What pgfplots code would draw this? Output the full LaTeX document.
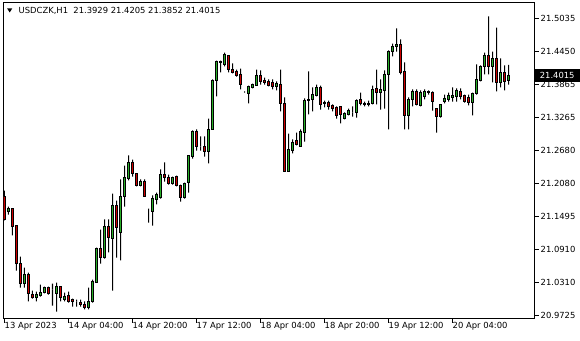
\documentclass[border=0pt]{standalone}
\usepackage{pgfplots}
\pgfplotsset{compat=1.18}
\usepackage{pgfplotstable}
\usepackage{fontspec}
\setmainfont{DejaVu Sans}
\definecolor{bull}{RGB}{40,175,40}
\definecolor{bear}{RGB}{205,0,0}
\newcommand{\mtfont}{\fontsize{8.4}{10}\selectfont}

\pgfplotstableread{
i o h l c
0 21.1853 21.1960 21.1424 21.1442
1 21.1585 21.1674 21.1531 21.1638
2 21.1638 21.1638 21.1156 21.1316
3 21.1334 21.1334 21.0530 21.0655
4 21.0655 21.0780 21.0226 21.0297
5 21.0297 21.0583 21.0226 21.0458
6 21.0458 21.0494 20.9976 21.0119
7 21.0101 21.0172 21.0029 21.0047
8 21.0047 21.0154 20.9976 21.0101
9 21.0083 21.0279 21.0065 21.0136
10 21.0136 21.0244 21.0119 21.0226
11 21.0226 21.0244 21.0101 21.0119
12 21.0190 21.0297 20.9904 21.0190
13 21.0119 21.0315 20.9797 21.0244
14 21.0244 21.0244 20.9976 21.0047
15 21.0011 21.0136 20.9976 21.0065
16 21.0083 21.0154 20.9958 20.9976
17 21.0011 21.0029 20.9886 20.9976
18 20.9976 21.0011 20.9886 20.9976
19 20.9958 21.0011 20.9886 20.9922
20 20.9922 20.9976 20.9833 20.9868
21 20.9868 21.0226 20.9833 20.9976
22 20.9976 21.0369 20.9958 21.0333
23 21.0315 21.0941 21.0315 21.0923
24 21.0923 21.1263 21.0655 21.0762
25 21.0762 21.1442 21.0744 21.1316
26 21.1316 21.1442 21.0852 21.1120
27 21.1102 21.1906 21.0172 21.1692
28 21.1692 21.1781 21.0762 21.1299
29 21.1209 21.2157 21.0709 21.1853
30 21.1853 21.2407 21.1674 21.2193
31 21.2175 21.2586 21.2139 21.2461
32 21.2461 21.2514 21.2210 21.2264
33 21.2264 21.2264 21.2032 21.2050
34 21.2050 21.2157 21.2032 21.2121
35 21.2121 21.2157 21.1853 21.1853
36 21.1638 21.1638 21.1388 21.1638
37 21.1585 21.1871 21.1334 21.1817
38 21.1799 21.1924 21.1710 21.1889
39 21.1835 21.2336 21.1817 21.2246
40 21.2246 21.2461 21.2121 21.2193
41 21.2193 21.2246 21.2067 21.2085
42 21.2085 21.2210 21.2067 21.2193
43 21.2210 21.2228 21.2032 21.2050
44 21.2050 21.2067 21.1763 21.1835
45 21.1835 21.2103 21.1817 21.2085
46 21.2103 21.2586 21.1924 21.2586
47 21.2568 21.3033 21.2532 21.3015
48 21.3015 21.3051 21.2675 21.2747
49 21.2747 21.2926 21.2675 21.2747
50 21.2747 21.2926 21.2568 21.2657
51 21.2657 21.3247 21.2443 21.3051
52 21.3051 21.3945 21.3051 21.3927
53 21.3927 21.4284 21.3641 21.4267
54 21.4249 21.4284 21.4070 21.4267
55 21.4213 21.4427 21.4177 21.4392
56 21.4374 21.4374 21.4070 21.4123
57 21.4123 21.4231 21.4052 21.4070
58 21.4088 21.4123 21.3998 21.4016
59 21.4034 21.4141 21.3766 21.3855
60 21.3730 21.3730 21.3712 21.3730
61 21.3694 21.3837 21.3516 21.3820
62 21.3802 21.3873 21.3784 21.3855
63 21.3837 21.4123 21.3837 21.4016
64 21.4016 21.4106 21.3855 21.3909
65 21.3927 21.3980 21.3855 21.3891
66 21.3909 21.3945 21.3820 21.3837
67 21.3891 21.3945 21.3766 21.3820
68 21.3820 21.3909 21.3748 21.3873
69 21.3855 21.4123 21.3373 21.3516
70 21.3516 21.3623 21.2300 21.2300
71 21.2300 21.2979 21.2300 21.2693
72 21.2675 21.2872 21.2622 21.2818
73 21.2854 21.2997 21.2765 21.2783
74 21.2747 21.3051 21.2747 21.3015
75 21.2997 21.3605 21.2836 21.3569
76 21.3569 21.4088 21.3319 21.3587
77 21.3587 21.3802 21.3373 21.3676
78 21.3659 21.3855 21.3641 21.3802
79 21.3802 21.3837 21.3408 21.3498
80 21.3533 21.3569 21.3444 21.3516
81 21.3533 21.3569 21.3408 21.3462
82 21.3480 21.3498 21.3373 21.3426
83 21.3444 21.3462 21.3247 21.3301
84 21.3462 21.3462 21.3158 21.3319
85 21.3247 21.3355 21.3230 21.3337
86 21.3319 21.3426 21.3301 21.3390
87 21.3355 21.3462 21.3283 21.3355
88 21.3355 21.3587 21.3265 21.3569
89 21.3587 21.3712 21.3480 21.3516
90 21.3516 21.3551 21.3462 21.3498
91 21.3516 21.3569 21.3462 21.3498
92 21.3516 21.3837 21.3498 21.3766
93 21.3784 21.4123 21.3498 21.3712
94 21.3712 21.3945 21.3408 21.3766
95 21.3748 21.4106 21.3426 21.4034
96 21.4034 21.4463 21.3051 21.4445
97 21.4445 21.4588 21.4356 21.4535
98 21.4535 21.4857 21.4445 21.4570
99 21.4570 21.4660 21.4034 21.4070
100 21.4088 21.4249 21.3051 21.3301
101 21.3301 21.3623 21.3051 21.3587
102 21.3587 21.3766 21.3462 21.3730
103 21.3730 21.3766 21.3480 21.3498
104 21.3480 21.3748 21.3462 21.3712
105 21.3641 21.3766 21.3587 21.3730
106 21.3730 21.3748 21.3676 21.3712
107 21.3712 21.3730 21.3390 21.3551
108 21.3426 21.3426 21.2997 21.3283
109 21.3283 21.3498 21.3265 21.3498
110 21.3551 21.3676 21.3516 21.3605
111 21.3587 21.3712 21.3551 21.3659
112 21.3623 21.3802 21.3551 21.3659
113 21.3641 21.3784 21.3551 21.3748
114 21.3730 21.3784 21.3587 21.3641
115 21.3659 21.3676 21.3533 21.3551
116 21.3623 21.3676 21.3480 21.3533
117 21.3533 21.3712 21.3301 21.3694
118 21.3694 21.4213 21.3676 21.3945
119 21.3927 21.4195 21.3909 21.4177
120 21.4177 21.4427 21.4034 21.4374
121 21.4374 21.5071 21.4034 21.4177
122 21.4177 21.4445 21.3891 21.4320
123 21.4320 21.4874 21.3730 21.3891
124 21.3891 21.4320 21.3802 21.4070
125 21.4070 21.4195 21.3748 21.3909
126 21.3929 21.4205 21.3852 21.4015
}\candles

\begin{document}
\begin{tikzpicture}
\useasboundingbox (-3.5pt,-21.5pt) rectangle (576.5pt,318.5pt);
\begin{axis}[
  scale only axis, width=531pt, height=316pt,
  anchor=south west, at={(0pt,0pt)},
  xmin=-0.25, xmax=132.5, ymin=20.9672, ymax=21.5321,
  ybar stacked,
  axis line style={black, line width=0.8pt},
  tick align=outside, major tick length=4pt,
  tick style={black, line width=0.8pt},
  xtick={0,16,32,48,64,80,96,112},
  xticklabels={13 Apr 2023, 14 Apr 04:00, 14 Apr 20:00, 17 Apr 12:00, 18 Apr 04:00, 18 Apr 20:00, 19 Apr 12:00, 20 Apr 04:00},
  xtick pos=lower, xticklabel pos=lower,
  ytick={20.9725,21.0310,21.0910,21.1495,21.2080,21.2680,21.3265,21.3865,21.4450,21.5035},
  yticklabels={20.9725,21.0310,21.0910,21.1495,21.2080,21.2680,21.3265,21.3865,21.4450,21.5035},
  ytick pos=upper, yticklabel pos=upper,
  ticklabel style={font=\mtfont, inner sep=0pt},
  xticklabel style={anchor=north west},
  yticklabel style={anchor=west, xshift=2pt},
]
\addplot[draw=none, fill=none] table[x=i, y=l] {\candles};
\addplot[fill=black, draw=none, bar width=1pt] table[x=i, y expr={min(\thisrow{o},\thisrow{c})-\thisrow{l}}] {\candles};
\addplot[fill=bull, draw=black, line width=1pt, bar width=2pt] table[x=i, y expr={max(\thisrow{c}-\thisrow{o},0)}] {\candles};
\addplot[fill=bear, draw=black, line width=1pt, bar width=2pt] table[x=i, y expr={max(\thisrow{o}-\thisrow{c},0)}] {\candles};
\addplot[fill=black, draw=none, bar width=1pt] table[x=i, y expr={\thisrow{h}-max(\thisrow{o},\thisrow{c})}] {\candles};
\coordinate (bid) at (axis cs:132.5,21.4015);
\end{axis}
\node[fill=black, text=white, font=\mtfont, inner sep=0pt, minimum width=45pt, minimum height=12.5pt, anchor=west] at (bid) {21.4015};
\fill (3.7pt,310pt) -- (8.7pt,310pt) -- (6.2pt,306pt) -- cycle;
\node[anchor=base west, inner sep=0pt, font=\mtfont] at (15pt,305pt) {USDCZK,H1\ \ 21.3929 21.4205 21.3852 21.4015};
\end{tikzpicture}
\end{document}
